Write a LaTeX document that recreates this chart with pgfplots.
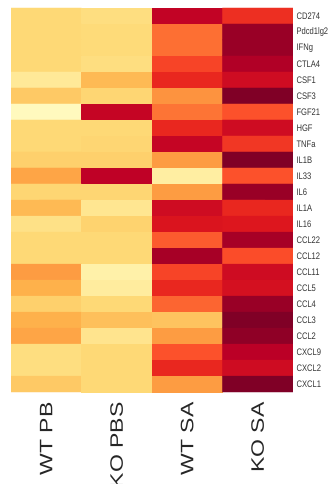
\documentclass[border=0pt]{standalone}
\usepackage{pgfplots}
\pgfplotsset{compat=1.18}
\usepackage{fontspec}
\setmainfont{Liberation Sans}
\newfontfamily\narrowfont[FakeStretch=0.8]{Liberation Sans}
\newfontfamily\wideFont[FakeStretch=1.28]{Liberation Sans}
\pgfplotsset{colormap={ylorrd}{rgb255=(255,255,204) rgb255=(255,237,160) rgb255=(254,217,118) rgb255=(254,178,76) rgb255=(253,141,60) rgb255=(252,78,42) rgb255=(227,26,28) rgb255=(189,0,38) rgb255=(128,0,38)}}
\begin{document}
\begin{tikzpicture}
\useasboundingbox (0,0) rectangle (330pt,484pt);
\begin{axis}[
  at={(11pt,476pt)}, anchor=north west,
  scale only axis, width=282pt, height=384pt,
  colormap name=ylorrd,
  point meta min=0, point meta max=1,
  xmin=-0.5, xmax=3.5, ymin=-0.5, ymax=23.5,
  y dir=reverse,
  axis line style={draw=none},
  major tick length=0pt,
  xtick={0,1,2,3},
  xticklabels={WT PB, KO PBS, WT SA, KO SA},
  xticklabel style={rotate=90, anchor=east, font=\wideFont\fontsize{18}{18}\selectfont, text=black!85},
  xticklabel shift=7pt,
  ytick={0,...,23},
  yticklabels={CD274,Pdcd1lg2,IFNg,CTLA4,CSF1,CSF3,FGF21,HGF,TNFa,IL1B,IL33,IL6,IL1A,IL16,CCL22,CCL12,CCL11,CCL5,CCL4,CCL3,CCL2,CXCL9,CXCL2,CXCL1},
  yticklabel pos=right,
  yticklabel style={font=\narrowfont\fontsize{9.5}{9.5}\selectfont, text=black!80, anchor=west},
  yticklabel shift=0pt,
]
\addplot[matrix plot*, mesh/cols=4, point meta=explicit, draw=none] table[meta=c] {
x y c
0 0 0.25
1 0 0.22
2 0 0.86
3 0 0.70
0 1 0.25
1 1 0.24
2 1 0.56
3 1 0.95
0 2 0.25
1 2 0.24
2 2 0.56
3 2 0.95
0 3 0.25
1 3 0.22
2 3 0.65
3 3 0.90
0 4 0.15
1 4 0.35
2 4 0.72
3 4 0.82
0 5 0.30
1 5 0.26
2 5 0.48
3 5 1.00
0 6 0.04
1 6 0.85
2 6 0.55
3 6 0.62
0 7 0.25
1 7 0.25
2 7 0.72
3 7 0.82
0 8 0.25
1 8 0.26
2 8 0.85
3 8 0.68
0 9 0.28
1 9 0.28
2 9 0.45
3 9 1.00
0 10 0.42
1 10 0.87
2 10 0.12
3 10 0.62
0 11 0.26
1 11 0.26
2 11 0.45
3 11 0.95
0 12 0.35
1 12 0.17
2 12 0.82
3 12 0.72
0 13 0.20
1 13 0.27
2 13 0.78
3 13 0.77
0 14 0.25
1 14 0.25
2 14 0.60
3 14 0.92
0 15 0.25
1 15 0.25
2 15 0.92
3 15 0.63
0 16 0.45
1 16 0.10
2 16 0.65
3 16 0.82
0 17 0.38
1 17 0.13
2 17 0.72
3 17 0.80
0 18 0.28
1 18 0.25
2 18 0.58
3 18 0.95
0 19 0.38
1 19 0.33
2 19 0.32
3 19 1.00
0 20 0.42
1 20 0.18
2 20 0.45
3 20 0.97
0 21 0.22
1 21 0.25
2 21 0.62
3 21 0.88
0 22 0.22
1 22 0.25
2 22 0.72
3 22 0.82
0 23 0.30
1 23 0.25
2 23 0.45
3 23 1.00
};
\end{axis}
\end{tikzpicture}
\end{document}
